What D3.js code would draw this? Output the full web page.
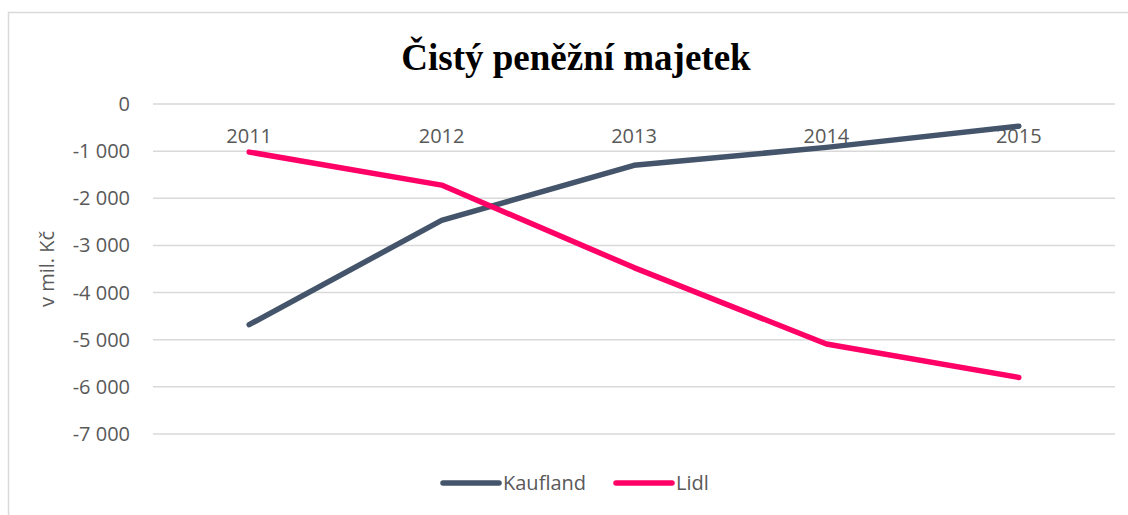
<!DOCTYPE html>
<html>
<head>
<meta charset="utf-8">
<script src="https://cdn.jsdelivr.net/npm/d3@7"></script>
<style>
  body { margin: 0; background: #fff; }
  text { font-family: "Open Sans", sans-serif; fill: #595959; }
</style>
</head>
<body>
<svg id="chart" width="1128" height="515"></svg>
<script>
// data (mil. Kč)
const years = ["2011", "2012", "2013", "2014", "2015"];
const kaufland = [-4680, -2470, -1300, -920, -470];
const lidl = [-1020, -1720, -3470, -5090, -5800];
const yTicks = [0, -1000, -2000, -3000, -4000, -5000, -6000, -7000];

const series = [
    { name: "Kaufland", values: kaufland, color: "#44546a" },
    { name: "Lidl", values: lidl, color: "#ff0066" }
];

const svg = d3.select("#chart");
const W = 1128, H = 515;
const margin = { left: 153, right: 13, top: 104, bottom: 81 };

// chart frame
svg.append("rect")
    .attr("x", 8.5).attr("y", 12.5)
    .attr("width", W + 20).attr("height", H + 20)
    .attr("fill", "none").attr("stroke", "#d9d9d9").attr("stroke-width", 1.5);

const x = d3.scaleBand()
    .domain(years)
    .range([margin.left, W - margin.right]);

const y = d3.scaleLinear()
    .domain([0, -7000])
    .range([margin.top, H - margin.bottom]);

const fmt = v => d3.format(",")(v).replace(/,/g, " ").replace("−", "-");

// gridlines
svg.append("g")
    .selectAll("line")
    .data(yTicks)
    .join("line")
        .attr("x1", margin.left).attr("x2", W - margin.right)
        .attr("y1", d => y(d)).attr("y2", d => y(d))
        .attr("stroke", "#d9d9d9").attr("stroke-width", 1.5);

// y labels
svg.append("g")
    .selectAll("text")
    .data(yTicks)
    .join("text")
        .attr("x", 130)
        .attr("y", d => y(d))
        .attr("dy", "0.35em")
        .attr("text-anchor", "end")
        .style("font-size", "20px")
        .text(fmt);

// category labels sit just under the zero line
svg.append("g")
    .selectAll("text")
    .data(years)
    .join("text")
        .attr("x", d => x(d) + x.bandwidth() / 2)
        .attr("y", y(0) + 39)
        .attr("text-anchor", "middle")
        .style("font-size", "20px")
        .text(d => d);

// y axis title
svg.append("text")
    .attr("transform", "translate(54,269) rotate(-90)")
    .attr("text-anchor", "middle")
    .style("font-size", "20px")
    .text("v mil. Kč");

// title
svg.append("text")
    .attr("x", 576).attr("y", 70)
    .attr("text-anchor", "middle")
    .style("font-family", "'Liberation Serif', 'Times New Roman', serif")
    .style("font-weight", "bold")
    .style("font-size", "37px")
    .style("fill", "#000")
    .text("Čistý peněžní majetek");

// lines
const line = d3.line()
    .x((d, i) => x(years[i]) + x.bandwidth() / 2)
    .y(d => y(d));

svg.append("g")
    .selectAll("path")
    .data(series)
    .join("path")
        .attr("d", d => line(d.values))
        .attr("fill", "none")
        .attr("stroke", d => d.color)
        .attr("stroke-width", 5.5)
        .attr("stroke-linecap", "round")
        .attr("stroke-linejoin", "round");

// legend
const legend = svg.append("g");
const legendX = [443, 616];
series.forEach(function(s, i) {
    legend.append("line")
        .attr("x1", legendX[i]).attr("x2", legendX[i] + 56)
        .attr("y1", 483).attr("y2", 483)
        .attr("stroke", s.color).attr("stroke-width", 5.5)
        .attr("stroke-linecap", "round");
    legend.append("text")
        .attr("x", legendX[i] + 60).attr("y", 483)
        .attr("dy", "0.35em")
        .style("font-size", "20px")
        .text(s.name);
});
</script>
</body>
</html>
